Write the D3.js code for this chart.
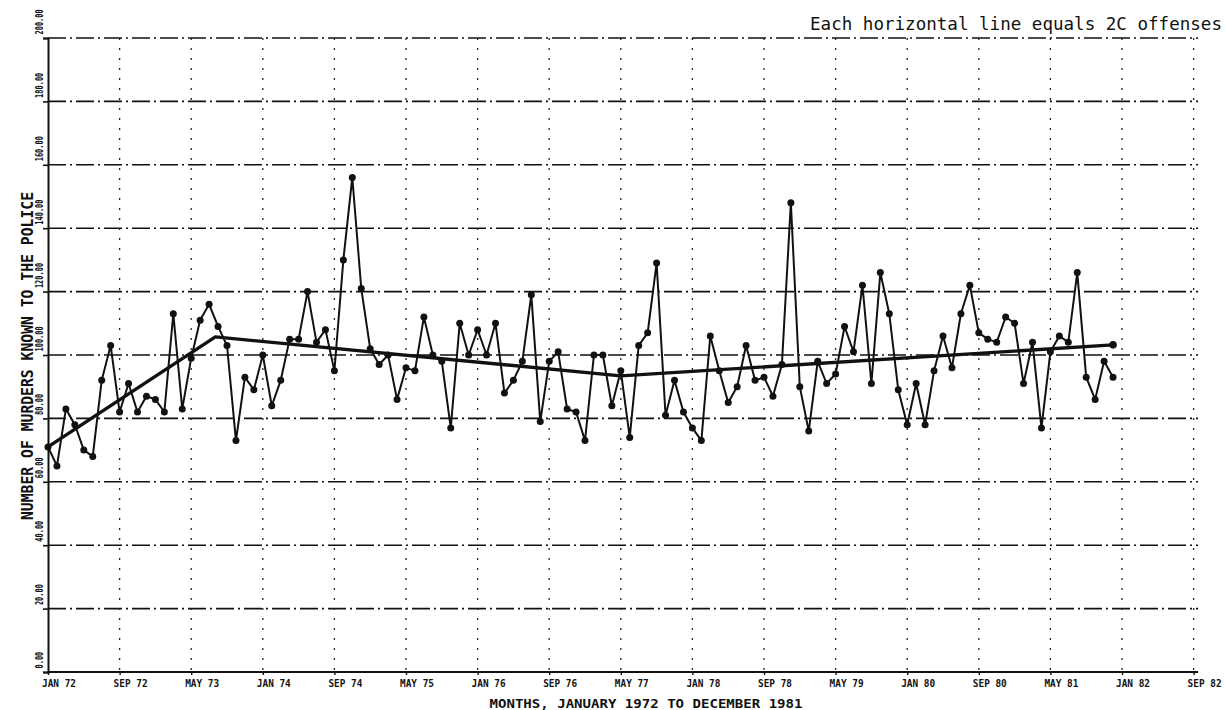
<!DOCTYPE html>
<html>
<head>
<meta charset="utf-8">
<script src="https://cdn.jsdelivr.net/npm/d3@7"></script>
<style>
  body { margin: 0; background: #fff; }
  svg { display: block; }
  text { font-family: "DejaVu Sans Mono", monospace; fill: #111; }
</style>
</head>
<body>
<div id="chart"></div>
<script>
// monthly murders, jan 1972 .. dec 1981
const murders = [
  71, 65, 83, 78, 70, 68, 92, 103, 82, 91, 82, 87,
  86, 82, 113, 83, 99, 111, 116, 109, 103, 73, 93, 89,
  100, 84, 92, 105, 105, 120, 104, 108, 95, 130, 156, 121,
  102, 97, 100, 86, 96, 95, 112, 100, 98, 77, 110, 100,
  108, 100, 110, 88, 92, 98, 119, 79, 98, 101, 83, 82,
  73, 100, 100, 84, 95, 74, 103, 107, 129, 81, 92, 82,
  77, 73, 106, 95, 85, 90, 103, 92, 93, 87, 97, 148,
  90, 76, 98, 91, 94, 109, 101, 122, 91, 126, 113, 89,
  78, 91, 78, 95, 106, 96, 113, 122, 107, 105, 104, 112,
  110, 91, 104, 77, 101, 106, 104, 126, 93, 86, 98, 93
];
// trend line knots (month index, value)
const trendMonths = [0, 18.7, 64, 119];
const trendValues = [71, 105.7, 93.4, 103.2];

const tickMonths = d3.range(0, 129, 8);
const tickLabels = ["JAN 72", "SEP 72", "MAY 73", "JAN 74", "SEP 74", "MAY 75", "JAN 76", "SEP 76",
  "MAY 77", "JAN 78", "SEP 78", "MAY 79", "JAN 80", "SEP 80", "MAY 81", "JAN 82", "SEP 82"];
const yTicks = [0, 20, 40, 60, 80, 100, 120, 140, 160, 180, 200];

const width = 1226, height = 710;
const svg = d3.select("#chart").append("svg")
  .attr("width", width)
  .attr("height", height);

const x = d3.scaleLinear().domain([0, 120]).range([48, 1122]);
const y = d3.scaleLinear().domain([0, 200]).range([672, 38]);
const right = x(128.5);

// horizontal grid, dash-dot like the plotter
svg.append("g")
  .selectAll("line")
  .data(yTicks.filter(d => d > 0))
  .join("line")
    .attr("x1", x(0)).attr("x2", right)
    .attr("y1", d => y(d)).attr("y2", d => y(d))
    .attr("stroke", "#111")
    .attr("stroke-width", 1.6)
    .attr("stroke-dasharray", "18,4,2,4");

// vertical dotted grid
svg.append("g")
  .selectAll("line")
  .data(tickMonths.filter(d => d > 0))
  .join("line")
    .attr("x1", d => x(d)).attr("x2", d => x(d))
    .attr("y1", y(200)).attr("y2", y(0))
    .attr("stroke", "#222")
    .attr("stroke-width", 1.3)
    .attr("stroke-dasharray", "2,8");

// left axis
const yAxis = svg.append("g")
  .attr("transform", `translate(${x(0)},0)`)
  .call(d3.axisLeft(y).tickValues(yTicks).tickSize(5).tickFormat(d => d.toFixed(2)));
yAxis.select(".domain").attr("stroke", "#111").attr("stroke-width", 2);
yAxis.selectAll(".tick line").attr("stroke", "#111").attr("stroke-width", 1.6);
yAxis.selectAll(".tick text")
  .attr("transform", "rotate(-90)")
  .attr("x", 4).attr("y", -9).attr("dy", "0.35em")
  .attr("text-anchor", "start")
  .attr("font-size", 11)
  .attr("font-weight", "bold")
  .attr("font-family", "DejaVu Sans Mono")
  .attr("textLength", d => d.toFixed(2).length * 4.2)
  .attr("lengthAdjust", "spacingAndGlyphs");

// bottom axis
const xAxis = svg.append("g")
  .attr("transform", `translate(0,${y(0)})`)
  .call(d3.axisBottom(x).tickValues(tickMonths).tickSize(3).tickFormat(""));
xAxis.select(".domain").attr("d", `M${x(0)},0H${right}`).attr("stroke", "#111").attr("stroke-width", 2.2);
xAxis.selectAll(".tick line").attr("stroke", "#111").attr("stroke-width", 1.4);

svg.append("g")
  .selectAll("text")
  .data(tickMonths)
  .join("text")
    .attr("x", d => x(d) + 11)
    .attr("y", 687)
    .attr("text-anchor", "middle")
    .attr("font-size", 11)
    .attr("font-weight", "bold")
    .attr("textLength", 34)
    .attr("lengthAdjust", "spacingAndGlyphs")
    .text((d, i) => tickLabels[i]);

// axis titles
svg.append("text")
  .attr("x", 646).attr("y", 708)
  .attr("text-anchor", "middle")
  .attr("font-size", 12)
  .attr("font-weight", "bold")
  .attr("textLength", 313)
  .attr("lengthAdjust", "spacingAndGlyphs")
  .text("MONTHS, JANUARY 1972 TO DECEMBER 1981");

svg.append("text")
  .attr("transform", "translate(33,356) rotate(-90)")
  .attr("text-anchor", "middle")
  .attr("font-size", 15)
  .attr("font-weight", "bold")
  .attr("textLength", 328)
  .attr("lengthAdjust", "spacingAndGlyphs")
  .text("NUMBER OF MURDERS KNOWN TO THE POLICE");

svg.append("text")
  .attr("x", 810).attr("y", 30)
  .attr("font-size", 17)
  .attr("textLength", 412)
  .attr("lengthAdjust", "spacingAndGlyphs")
  .text("Each horizontal line equals 2C offenses");

// data line + points
const line = d3.line().x((d, i) => x(i)).y(d => y(d));
svg.append("path")
  .datum(murders)
  .attr("fill", "none")
  .attr("stroke", "#111")
  .attr("stroke-width", 2)
  .attr("d", line);

svg.append("g")
  .selectAll("circle")
  .data(murders)
  .join("circle")
    .attr("cx", (d, i) => x(i))
    .attr("cy", d => y(d))
    .attr("r", 3.5)
    .attr("fill", "#111");

// trend
const trend = d3.line().x(d => x(d[0])).y(d => y(d[1]));
svg.append("path")
  .datum(d3.zip(trendMonths, trendValues))
  .attr("fill", "none")
  .attr("stroke", "#111")
  .attr("stroke-width", 3.4)
  .attr("stroke-linejoin", "round")
  .attr("d", trend);
svg.append("circle")
  .attr("cx", x(trendMonths[3])).attr("cy", y(trendValues[3]))
  .attr("r", 3.8).attr("fill", "#111");
</script>
</body>
</html>
